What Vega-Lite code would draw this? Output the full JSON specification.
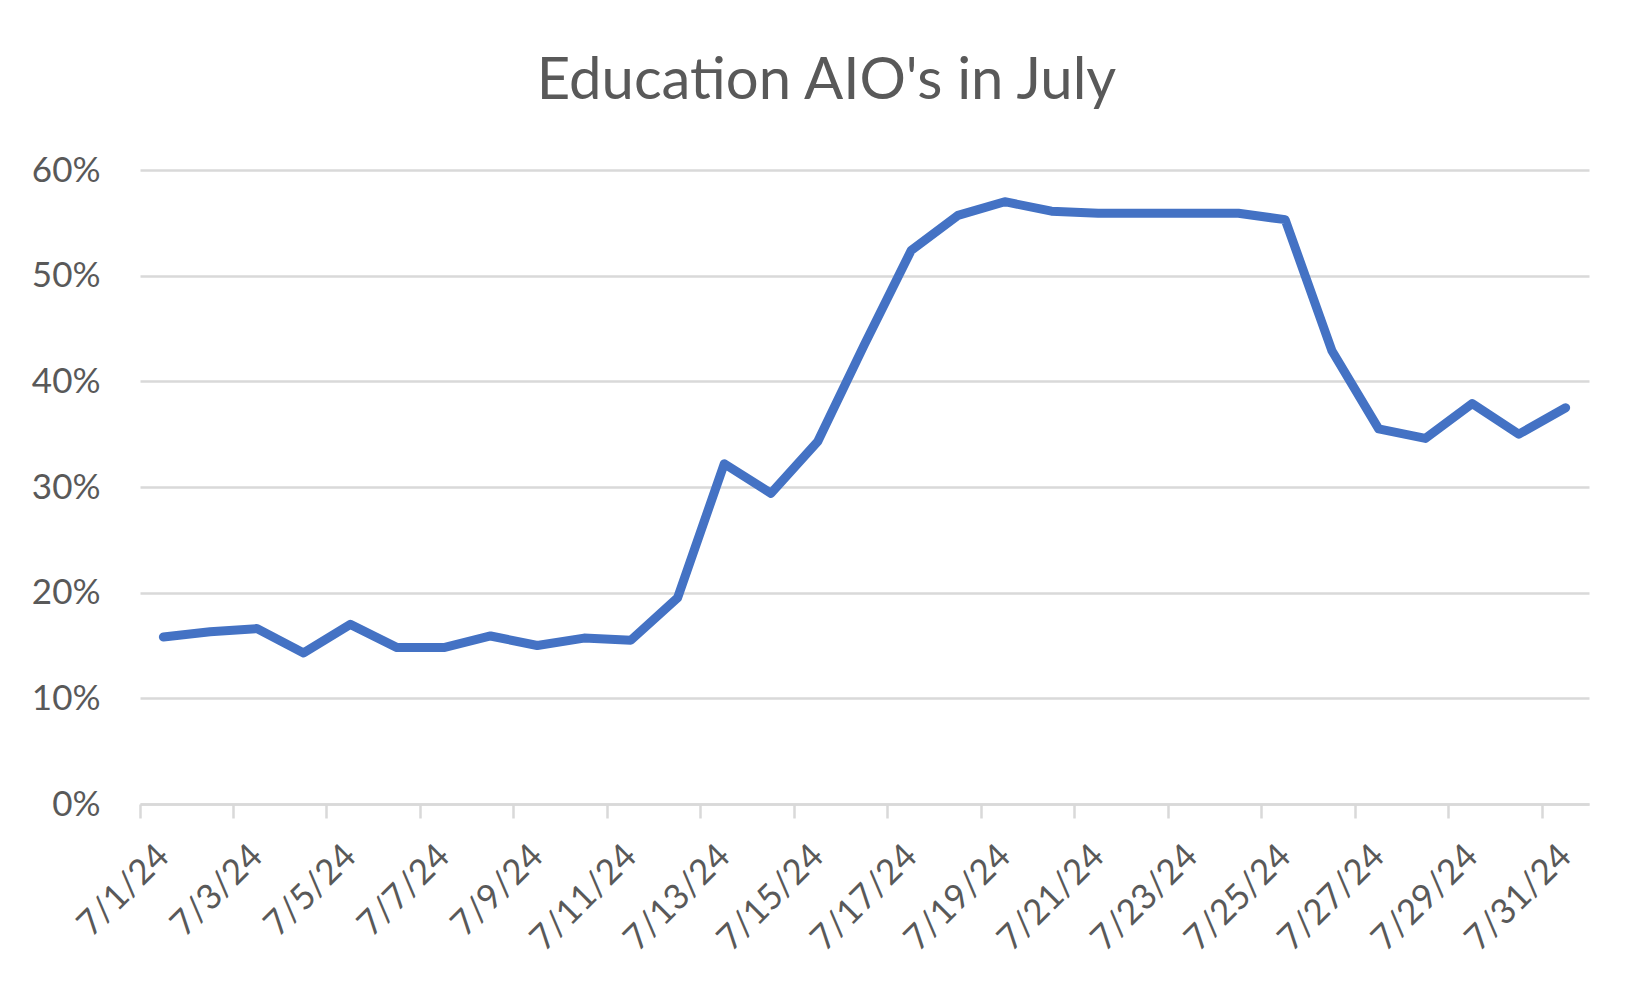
{
  "$schema": "https://vega.github.io/schema/vega-lite/v6.json",
  "autosize": {"type": "none"},
  "width": 1449,
  "height": 634,
  "padding": {"left": 140, "top": 170, "right": 63, "bottom": 188},
  "background": "white",
  "title": {
    "text": "Education AIO's in July",
    "font": "Lato",
    "fontSize": 58,
    "fontWeight": "normal",
    "color": "#595959",
    "anchor": "middle",
    "baseline": "alphabetic",
    "offset": -4,
    "dx": -38
  },
  "data": {
    "values": [
      {"date": "7/1/24", "value": 0.158},
      {"date": "7/2/24", "value": 0.163},
      {"date": "7/3/24", "value": 0.166},
      {"date": "7/4/24", "value": 0.143},
      {"date": "7/5/24", "value": 0.170},
      {"date": "7/6/24", "value": 0.148},
      {"date": "7/7/24", "value": 0.148},
      {"date": "7/8/24", "value": 0.159},
      {"date": "7/9/24", "value": 0.150},
      {"date": "7/10/24", "value": 0.157},
      {"date": "7/11/24", "value": 0.155},
      {"date": "7/12/24", "value": 0.195},
      {"date": "7/13/24", "value": 0.322},
      {"date": "7/14/24", "value": 0.294},
      {"date": "7/15/24", "value": 0.343},
      {"date": "7/16/24", "value": 0.435},
      {"date": "7/17/24", "value": 0.524},
      {"date": "7/18/24", "value": 0.557},
      {"date": "7/19/24", "value": 0.570},
      {"date": "7/20/24", "value": 0.561},
      {"date": "7/21/24", "value": 0.559},
      {"date": "7/22/24", "value": 0.559},
      {"date": "7/23/24", "value": 0.559},
      {"date": "7/24/24", "value": 0.559},
      {"date": "7/25/24", "value": 0.553},
      {"date": "7/26/24", "value": 0.429},
      {"date": "7/27/24", "value": 0.355},
      {"date": "7/28/24", "value": 0.346},
      {"date": "7/29/24", "value": 0.379},
      {"date": "7/30/24", "value": 0.350},
      {"date": "7/31/24", "value": 0.375}
    ]
  },
  "mark": {"type": "line", "color": "#4472C4", "strokeWidth": 9, "strokeCap": "round", "strokeJoin": "round"},
  "encoding": {
    "x": {
      "field": "date",
      "type": "ordinal",
      "sort": null,
      "bandPosition": 0.5,
      "scale": {"type": "band", "paddingInner": 0, "paddingOuter": 0},
      "axis": {
        "title": null,
        "values": ["7/1/24", "7/3/24", "7/5/24", "7/7/24", "7/9/24", "7/11/24", "7/13/24", "7/15/24", "7/17/24", "7/19/24", "7/21/24", "7/23/24", "7/25/24", "7/27/24", "7/29/24", "7/31/24"],
        "bandPosition": 0,
        "labelAngle": -45,
        "labelAlign": "right",
        "labelBaseline": "top",
        "labelOffset": -12,
        "labelPadding": 20,
        "labelFont": "Lato",
        "labelFontSize": 35,
        "labelColor": "#595959",
        "labelOverlap": false,
        "domainColor": "#d9d9d9",
        "domainWidth": 2.5,
        "tickColor": "#d9d9d9",
        "tickWidth": 2.5,
        "tickSize": 14,
        "grid": false
      }
    },
    "y": {
      "field": "value",
      "type": "quantitative",
      "scale": {"domain": [0, 0.6]},
      "axis": {
        "title": null,
        "values": [0, 0.1, 0.2, 0.3, 0.4, 0.5, 0.6],
        "format": ".0%",
        "domain": false,
        "ticks": false,
        "labelPadding": 40,
        "labelFont": "Lato",
        "labelFontSize": 35,
        "labelColor": "#595959",
        "grid": true,
        "gridColor": "#d9d9d9",
        "gridWidth": 2.5
      }
    }
  },
  "config": {"view": {"stroke": null}}
}
